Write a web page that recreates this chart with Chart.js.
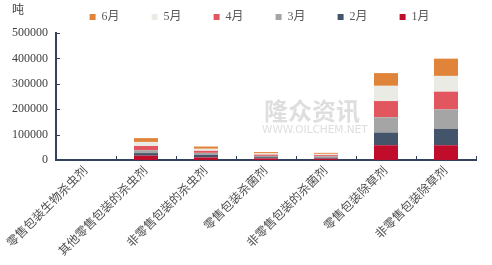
<!DOCTYPE html>
<html>
<head>
<meta charset="utf-8">
<script src="https://cdn.jsdelivr.net/npm/chart.js@4/dist/chart.umd.min.js"></script>
<style>
  html, body { margin: 0; padding: 0; background: #fff; }
  #wrap { width: 492px; height: 265px; }
</style>
</head>
<body>
<div id="wrap"><canvas id="chart"></canvas></div>
<script>
// categories and monthly values (tons)
const categories = [
  "零售包装生物杀虫剂",
  "其他零售包装的杀虫剂",
  "非零售包装的杀虫剂",
  "零售包装杀菌剂",
  "非零售包装的杀菌剂",
  "零售包装除草剂",
  "非零售包装除草剂",
];
const months = ["1月", "2月", "3月", "4月", "5月", "6月"];
const jan = [0, 17000, 10000, 6000, 5000, 58000, 58000];
const feb = [0, 10000, 10000, 5000, 4000, 50000, 64000];
const mar = [0, 11500, 8000, 5000, 5000, 60000, 77000];
const apr = [0, 16500, 8000, 5000, 5000, 64000, 70000];
const may = [0, 16000, 8000, 5000, 5000, 60000, 62000];
const jun = [0, 15000, 9000, 5000, 4000, 50000, 68000];
const yTicks = [0, 100000, 200000, 300000, 400000, 500000];

const colors = ["#C00D2B", "#44546A", "#A5A5A5", "#E2575F", "#EBEBE6", "#E0843A"];
const series = [jan, feb, mar, apr, may, jun];

const FONT = "'Liberation Serif', 'Noto Sans CJK SC', serif";
const axisColor = "#33415C";

// y-axis unit + watermark + inner tick marks
const extras = {
  id: "extras",
  beforeDatasetsDraw(chart) {
    const ctx = chart.ctx;
    ctx.save();
    ctx.fillStyle = "rgba(200,200,200,0.6)";
    ctx.font = "bold 24px 'Noto Sans CJK SC'";
    ctx.textBaseline = "alphabetic";
    ctx.fillText("隆众资讯", 264, 120);
    ctx.font = "10.5px 'DejaVu Sans'";
    ctx.fillText("WWW.OILCHEM.NET", 262, 133);
    ctx.restore();
  },
  afterDraw(chart) {
    const ctx = chart.ctx;
    const x = chart.scales.x, y = chart.scales.y;
    ctx.save();
    ctx.strokeStyle = axisColor;
    ctx.lineWidth = 1;
    yTicks.forEach(v => {
      const py = Math.round(y.getPixelForValue(v)) + 0.5;
      ctx.beginPath();
      ctx.moveTo(x.left, py);
      ctx.lineTo(x.left + 4, py);
      ctx.stroke();
    });
    const step = x.getPixelForValue(1) - x.getPixelForValue(0);
    categories.forEach((c, i) => {
      const px = Math.round(x.getPixelForValue(i) + step / 2) + 0.5;
      ctx.beginPath();
      ctx.moveTo(px, y.bottom);
      ctx.lineTo(px, y.bottom - 4);
      ctx.stroke();
    });
    ctx.fillStyle = "#404040";
    ctx.font = "12px 'Noto Sans CJK SC'";
    ctx.textBaseline = "middle";
    ctx.fillText("吨", 12, 9);
    ctx.restore();
  },
};

new Chart(document.getElementById("chart"), {
  type: "bar",
  data: {
    labels: categories,
    datasets: series.map((d, i) => ({
      label: months[i],
      data: d,
      backgroundColor: colors[i],
      borderWidth: 0,
      categoryPercentage: 1,
      barPercentage: 0.4,
    })),
  },
  options: {
    responsive: true,
    maintainAspectRatio: false,
    animation: false,
    layout: { padding: { left: 4, right: 16, top: 3, bottom: 2 } },
    plugins: {
      legend: {
        position: "top",
        align: "end",
        reverse: true,
        labels: {
          boxWidth: 6,
          boxHeight: 6,
          padding: 8,
          color: "#595959",
          font: { family: FONT, size: 12 },
          generateLabels: chart => {
            const items = Chart.defaults.plugins.legend.labels.generateLabels(chart);
            items.forEach(it => {
              it.text = it.text + "\u2003\u2003";
              if (it.datasetIndex === 0) it.text += "\u2003\u2009";
            });
            return items;
          },
        },
      },
      tooltip: { enabled: false },
    },
    scales: {
      x: {
        stacked: true,
        grid: { display: false, drawTicks: false },
        border: { color: axisColor, width: 2 },
        ticks: {
          minRotation: 45,
          maxRotation: 45,
          padding: 4,
          color: "#505050",
          font: { family: FONT, size: 12 },
        },
      },
      y: {
        stacked: true,
        min: 0,
        max: 500000,
        grid: { display: false, drawTicks: false },
        border: { color: axisColor, width: 2 },
        afterBuildTicks: s => { s.ticks = yTicks.map(v => ({ value: v })); },
        ticks: {
          padding: 8,
          color: "#404040",
          font: { family: FONT, size: 12 },
          callback: v => String(v),
        },
      },
    },
  },
  plugins: [extras],
});
</script>
</body>
</html>
